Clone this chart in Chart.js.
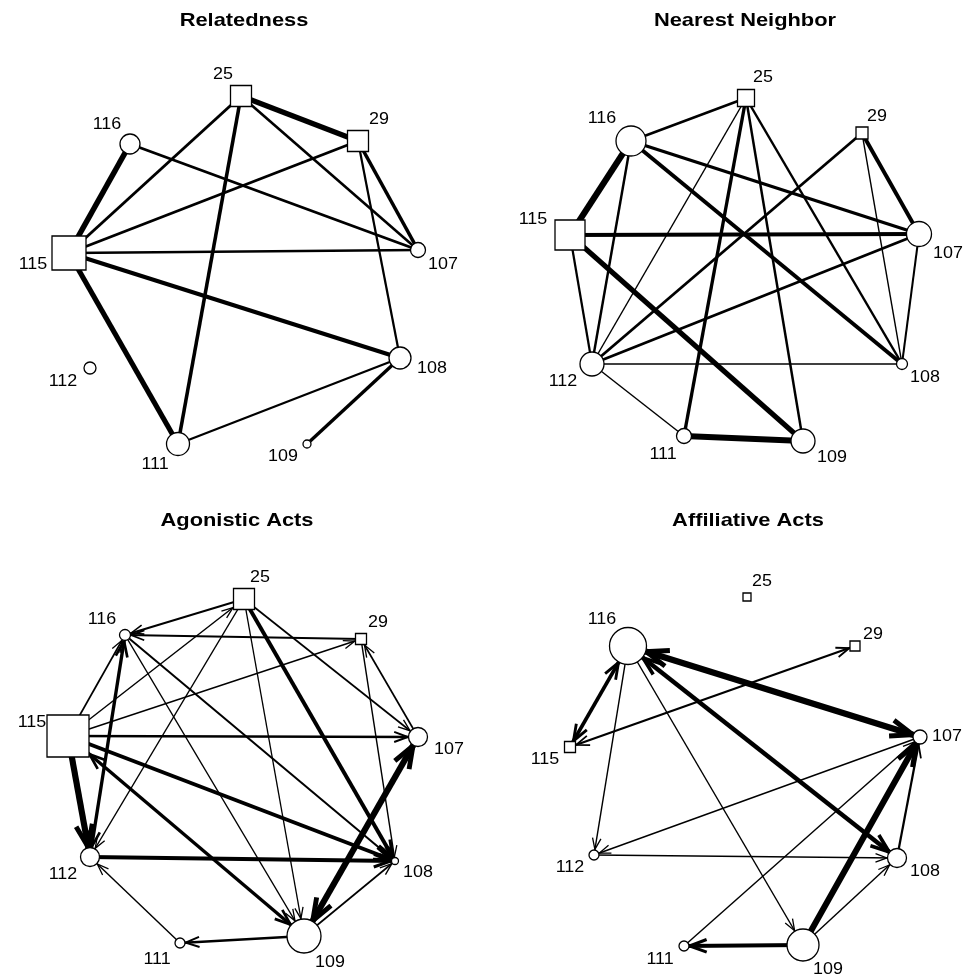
<!DOCTYPE html>
<html>
<head>
<meta charset="utf-8">
<script src="https://cdn.jsdelivr.net/npm/chart.js@4.4.1/dist/chart.umd.min.js"></script>
<style>
  html, body { margin: 0; padding: 0; background: #fff; overflow: hidden; }
  #wrap { position: relative; width: 979px; height: 979px; }
  .panel { position: absolute; width: 490px; height: 490px; }
  .panel canvas { display: block; }
</style>
</head>
<body>
<div id="wrap">
  <div class="panel" style="left:0;top:0"><canvas id="c0" width="490" height="490"></canvas></div>
  <div class="panel" style="left:490px;top:0"><canvas id="c1" width="490" height="490"></canvas></div>
  <div class="panel" style="left:0;top:490px"><canvas id="c2" width="490" height="490"></canvas></div>
  <div class="panel" style="left:490px;top:490px"><canvas id="c3" width="490" height="490"></canvas></div>
</div>
<script>
// Individuals (squares: 25, 29, 115)
const NODE_IDS   = ['25', '29', '116', '115', '107', '108', '112', '111', '109'];
const SQUARE_IDS = ['25', '29', '115'];

// Relatedness: layout coordinates, node size, edges [a, b, strength]
const REL_X    = [241, 358, 130,  69, 418, 400,  90, 178, 307];
const REL_Y    = [ 96, 141, 144, 253, 250, 358, 368, 444, 444];
const REL_SIZE = [ 21,  21,  20,  34,  15,  22,  12,  23,   8];
const REL_EDGES = [
  ['25', '29', 4.8], ['25', '115', 2.6], ['25', '111', 3.2], ['25', '107', 2.3],
  ['29', '115', 2.6], ['29', '107', 3.2], ['29', '108', 2.0],
  ['116', '115', 5.0], ['116', '107', 2.6],
  ['115', '107', 2.3], ['115', '108', 3.6], ['115', '111', 4.6],
  ['111', '108', 2.0], ['108', '109', 3.0]
];

// Nearest neighbor
const NN_X    = [256, 372, 141,  80, 429, 412, 102, 194, 313];
const NN_Y    = [ 98, 133, 141, 235, 234, 364, 364, 436, 441];
const NN_SIZE = [ 17,  12,  30,  30,  25,  11,  24,  15,  24];
const NN_EDGES = [
  ['25', '116', 2.2], ['25', '112', 1.3], ['25', '111', 3.0], ['25', '109', 2.2], ['25', '108', 2.2],
  ['29', '112', 2.5], ['29', '107', 3.5], ['29', '108', 1.3],
  ['116', '115', 5.5], ['116', '112', 2.2], ['116', '107', 3.0], ['116', '108', 3.5],
  ['115', '107', 3.5], ['115', '112', 2.0], ['115', '109', 4.5],
  ['107', '112', 2.5], ['107', '108', 1.8],
  ['112', '108', 1.3], ['112', '111', 1.3], ['111', '109', 5.5]
];

// Agonistic acts: [actor, recipient, frequency, 1 = one way / 2 = both ways]
const AGO_X    = [244, 361, 125,  68, 418, 395,  90, 180, 304];
const AGO_Y    = [109, 149, 145, 246, 247, 371, 367, 453, 446];
const AGO_SIZE = [ 21,  11,  11,  42,  19,   7,  19,  10,  34];
const AGO_EDGES = [
  ['25', '116', 1.8, 1], ['29', '116', 2.0, 1], ['115', '116', 1.5, 1], ['112', '116', 3.0, 2],
  ['115', '25', 1.3, 1], ['25', '112', 1.3, 1], ['115', '29', 1.3, 1],
  ['115', '107', 2.2, 1], ['115', '108', 3.5, 1], ['115', '112', 5.5, 1], ['115', '109', 3.0, 2],
  ['25', '108', 3.5, 1], ['25', '109', 1.2, 1], ['25', '107', 1.5, 1],
  ['116', '108', 1.8, 1], ['116', '109', 1.3, 1],
  ['29', '108', 1.3, 1], ['107', '29', 1.5, 1],
  ['109', '107', 5.5, 2], ['109', '108', 1.5, 1], ['112', '108', 3.5, 1],
  ['109', '111', 2.2, 1], ['111', '112', 1.3, 1]
];

// Affiliative acts
const AFF_X    = [257, 365, 138,  80, 430, 407, 104, 194, 313];
const AFF_Y    = [107, 156, 156, 257, 247, 368, 365, 456, 455];
const AFF_SIZE = [  8,  10,  37,  11,  14,  19,  10,  10,  32];
const AFF_EDGES = [
  ['116', '107', 5.5, 2], ['116', '108', 4.0, 2], ['116', '115', 3.2, 2], ['115', '29', 2.0, 2],
  ['116', '112', 1.3, 1], ['116', '109', 1.3, 1],
  ['107', '112', 1.3, 1], ['112', '108', 1.3, 1],
  ['109', '107', 5.5, 1], ['111', '107', 1.3, 1], ['109', '108', 1.3, 1], ['108', '107', 2.0, 1],
  ['109', '111', 3.5, 1]
];

// Label placement relative to each node (px), same order as NODE_IDS
const LABEL_OFFSETS = {
  rel: [[-18, -21], [21, -21], [-23, -19], [-36, 12], [25, 15], [32, 11], [-27, 14], [-23, 21], [-24, 13]],
  nn:  [[17, -20], [15, -16], [-29, -22], [-37, -15], [29, 20], [23, 14], [-29, 18], [-21, 19], [29, 17]],
  ago: [[16, -21], [17, -16], [-23, -15], [-36, -13], [31, 13], [23, 12], [-27, 18], [-23, 17], [26, 27]],
  aff: [[15, -15], [18, -11], [-26, -26], [-25, 13], [27, 0], [28, 14], [-24, 13], [-24, 14], [25, 25]]
};

const PANELS = [
  { canvas: 'c0', title: 'Relatedness',      titleX: 244, titleY: 21, xs: REL_X, ys: REL_Y, size: REL_SIZE, edges: REL_EDGES, labels: LABEL_OFFSETS.rel },
  { canvas: 'c1', title: 'Nearest Neighbor', titleX: 255, titleY: 21, xs: NN_X,  ys: NN_Y,  size: NN_SIZE,  edges: NN_EDGES,  labels: LABEL_OFFSETS.nn },
  { canvas: 'c2', title: 'Agonistic Acts',   titleX: 237, titleY: 31, xs: AGO_X, ys: AGO_Y, size: AGO_SIZE, edges: AGO_EDGES, labels: LABEL_OFFSETS.ago },
  { canvas: 'c3', title: 'Affiliative Acts', titleX: 258, titleY: 31, xs: AFF_X, ys: AFF_Y, size: AFF_SIZE, edges: AFF_EDGES, labels: LABEL_OFFSETS.aff }
];

const LABEL_FONT = '16px "Liberation Sans", Arial, sans-serif';
const TITLE_FONT = 'bold 19px "Liberation Sans", Arial, sans-serif';
const LABEL_STRETCH = 1.12;
const TITLE_STRETCH = 1.15;
const NODE_BORDER = 1.3;
const LINE_SCALE = 1.12;   // stroke width per unit of tie strength

function drawStretchedText(ctx, text, x, y, font, stretch) {
  ctx.save();
  ctx.font = font;
  ctx.fillStyle = '#000';
  ctx.textAlign = 'center';
  ctx.textBaseline = 'middle';
  ctx.translate(x, y);
  ctx.scale(stretch, 1);
  ctx.fillText(text, 0, 0);
  ctx.restore();
}

function buildPanel(p) {
  const idx = id => NODE_IDS.indexOf(id);
  const pt = id => ({ x: p.xs[idx(id)], y: p.ys[idx(id)] });
  const isSquare = id => SQUARE_IDS.includes(id);
  const radius = (id, i) => isSquare(id) ? p.size[i] / Math.SQRT2 : p.size[i] / 2;

  const edgeSets = p.edges.map(e => ({
    data: [pt(e[0]), pt(e[1])],
    showLine: true,
    borderColor: '#000',
    borderWidth: e[2] * LINE_SCALE,
    borderCapStyle: 'butt',
    pointRadius: 0,
    pointHoverRadius: 0,
    order: 2
  }));

  const nodeSet = {
    data: NODE_IDS.map(pt),
    showLine: false,
    pointStyle: NODE_IDS.map(id => isSquare(id) ? 'rect' : 'circle'),
    pointRadius: NODE_IDS.map(radius),
    pointHoverRadius: NODE_IDS.map(radius),
    backgroundColor: '#fff',
    borderColor: '#000',
    borderWidth: NODE_BORDER,
    order: 0
  };
  const nodeIndex = edgeSets.length;

  // Open arrowheads on directed ties, drawn just beneath the node symbols
  const arrowPlugin = {
    id: 'arrowHeads',
    beforeDatasetDraw(chart, args) {
      if (args.index !== nodeIndex) return;
      const ctx = chart.ctx;
      const sx = chart.scales.x, sy = chart.scales.y;
      const unit = Math.abs(sx.getPixelForValue(1) - sx.getPixelForValue(0));
      const pix = id => { const q = pt(id); return { x: sx.getPixelForValue(q.x), y: sy.getPixelForValue(q.y) }; };
      const head = (fromId, toId, strength) => {
        const w = strength * LINE_SCALE;
        const a = pix(fromId), b = pix(toId);
        const dx = b.x - a.x, dy = b.y - a.y;
        const L = Math.hypot(dx, dy);
        const ux = dx / L, uy = dy / L;
        const half = p.size[idx(toId)] * unit / 2;
        const reach = isSquare(toId) ? half / Math.max(Math.abs(ux), Math.abs(uy)) : half;
        const tx = b.x - ux * (reach + NODE_BORDER / 2);
        const ty = b.y - uy * (reach + NODE_BORDER / 2);
        const len = 8 + 2.3 * w, spread = 3 + 0.85 * w;
        const bx = tx - ux * len, by = ty - uy * len;
        const nx = -uy, ny = ux;
        ctx.beginPath();
        ctx.moveTo(bx + nx * spread, by + ny * spread);
        ctx.lineTo(tx, ty);
        ctx.lineTo(bx - nx * spread, by - ny * spread);
        ctx.lineWidth = Math.max(1.3, w * 0.8);
        ctx.lineJoin = 'miter';
        ctx.lineCap = 'butt';
        ctx.strokeStyle = '#000';
        ctx.stroke();
      };
      ctx.save();
      p.edges.forEach(e => {
        if (!e[3]) return;
        head(e[0], e[1], e[2]);
        if (e[3] === 2) head(e[1], e[0], e[2]);
      });
      ctx.restore();
    }
  };

  const textPlugin = {
    id: 'nodeText',
    afterDatasetsDraw(chart) {
      const ctx = chart.ctx;
      const sx = chart.scales.x, sy = chart.scales.y;
      NODE_IDS.forEach((id, i) => {
        const q = pt(id);
        drawStretchedText(ctx, id,
          sx.getPixelForValue(q.x) + p.labels[i][0],
          sy.getPixelForValue(q.y) + p.labels[i][1],
          LABEL_FONT, LABEL_STRETCH);
      });
      drawStretchedText(ctx, p.title, sx.getPixelForValue(p.titleX), sy.getPixelForValue(p.titleY), TITLE_FONT, TITLE_STRETCH);
    }
  };

  new Chart(document.getElementById(p.canvas), {
    type: 'scatter',
    data: { datasets: [...edgeSets, nodeSet] },
    options: {
      responsive: false,
      animation: false,
      devicePixelRatio: 1,
      events: [],
      layout: { padding: 0, autoPadding: false },
      scales: {
        x: { type: 'linear', min: 0, max: 490, display: false },
        y: { type: 'linear', min: 0, max: 490, reverse: true, display: false }
      },
      plugins: { legend: { display: false }, tooltip: { enabled: false }, title: { display: false } }
    },
    plugins: [arrowPlugin, textPlugin]
  });
}

PANELS.forEach(buildPanel);
</script>
</body>
</html>
